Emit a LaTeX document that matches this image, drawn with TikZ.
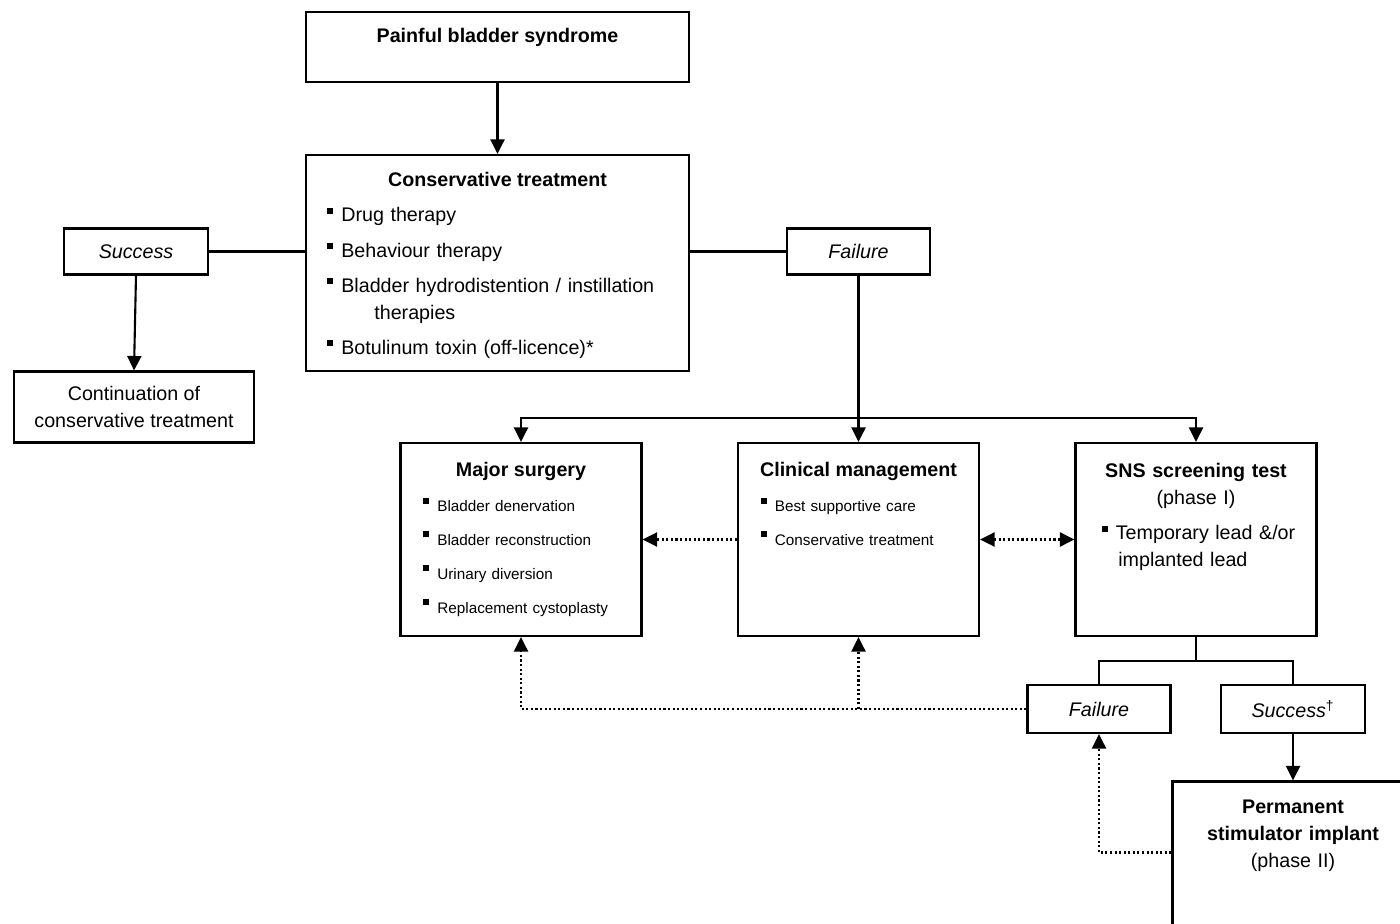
\documentclass[tikz,border=0pt]{standalone}
\usepackage{fontspec}
\setmainfont{Liberation Sans}
\usetikzlibrary{arrows.meta,positioning}
\newcommand{\blt}{\raisebox{0.16cm}{\rule{0.12cm}{0.12cm}}\hspace{0.16cm}}

\begin{document}
\begin{tikzpicture}[
  font=\fontsize{11.2}{15.4}\selectfont,
  box/.style={draw, line width=1.2pt, inner sep=0pt},
  big/.style={box, minimum width=4.82cm, minimum height=3.86cm},
  opt/.style={box, minimum width=2.88cm, minimum height=0.92cm,
              font=\fontsize{11.2}{15.4}\selectfont\itshape},
  ttl/.style={inner sep=0pt, anchor=base, font=\fontsize{11.2}{15.4}\selectfont\bfseries},
  lst/.style={inner sep=0pt, anchor=base west, align=left, text width=#1},
  lst/.default=4.4cm,
  sml/.style={font=\fontsize{8.7}{19.3}\selectfont},
  e/.style={line width=1.2pt},
  arr/.style={e, -{Triangle[length=0.29cm, width=0.28cm]}},
  arr2/.style={e, {Triangle[length=0.29cm, width=0.28cm]}-{Triangle[length=0.29cm, width=0.28cm]}},
  dotl/.style={dash pattern=on 1.2pt off 1.4pt}
]
\clip (0,0) rectangle (28,-18.48);

% top of the pathway
\node[box, minimum width=7.66cm, minimum height=1.40cm] (pbs) at (9.95,-0.94) {};
\node[ttl] (pbs-t) at (9.95,-0.86) {Painful bladder syndrome};

\node[box, minimum width=7.66cm, minimum height=4.32cm] (ct) at (9.95,-5.26) {};
\node[ttl] (ct-t) at (9.95,-3.74) {Conservative treatment};
\node[lst=7.2cm] (ct-l) at (6.54,-4.44) {\blt Drug therapy\\[0.16cm]
  \blt Behaviour therapy\\[0.16cm]
  \blt Bladder hydrodistention / instillation\\
  \hspace*{0.94cm}therapies\\[0.16cm]
  \blt Botulinum toxin (off-licence)*};

\node[opt] (ok1) at (2.72,-5.03) {Success};
\node[opt, minimum width=2.86cm] (fail1) at (17.17,-5.03) {Failure};
\node[box, minimum width=4.80cm, minimum height=1.42cm, align=center] (cont) at (2.68,-8.14)
  {Continuation of\\conservative treatment};

% second line options
\node[big] (ms) at (10.42,-10.79) {};
\node[ttl] (ms-t) at (10.42,-9.53) {Major surgery};
\node[lst, sml] (ms-l) at (8.46,-10.23) {\blt Bladder denervation\\
  \blt Bladder reconstruction\\
  \blt Urinary diversion\\
  \blt Replacement cystoplasty};

\node[big] (cm) at (17.17,-10.79) {};
\node[ttl] (cm-t) at (17.17,-9.53) {Clinical management};
\node[lst, sml] (cm-l) at (15.21,-10.23) {\blt Best supportive care\\
  \blt Conservative treatment};

\node[big] (sns) at (23.92,-10.79) {};
\node[ttl, text width=4.6cm, align=center] (sns-t) at (23.92,-9.55)
  {SNS screening test\\\mdseries (phase I)};
\node[lst] (sns-l) at (22.03,-10.79) {\blt Temporary lead \&/or\\
  \hspace*{0.33cm}implanted lead};

% SNS outcome
\node[opt, minimum width=2.86cm, minimum height=0.96cm] (fail2) at (21.98,-14.18) {Failure};
\node[opt, minimum height=0.96cm] (ok2) at (25.86,-14.18) {Success\textsuperscript{\upshape\textdagger}};
\node[big] (psi) at (25.86,-17.56) {};
\node[ttl, text width=4.6cm, align=center] (psi-t) at (25.86,-16.27)
  {Permanent\\stimulator implant\\\mdseries (phase II)};

\coordinate (bus) at (17.17,-8.36);
\coordinate (split) at (23.92,-13.22);

% connectors
\draw[arr] (pbs.south) -- (ct.north);
\draw[e] (ok1.east) -- (ok1.east -| ct.west);
\draw[e] (fail1.west -| ct.east) -- (fail1.west);
\draw[arr] (ok1.south) -- (cont.north);
\draw[arr] (fail1.south) -- (cm.north);
\draw[arr] (bus) -| (ms.north);
\draw[arr] (bus) -| (sns.north);
\draw[e] (sns.south) -- (split);
\draw[e] (fail2.north) |- (split) -| (ok2.north);
\draw[arr] (ok2.south) -- (psi.north);

% dotted returns
\draw[arr, dotl] (cm.west) -- (ms.east);
\draw[arr2, dotl] (cm.east) -- (sns.west);
\draw[arr, dotl] (fail2.west) -| (ms.south);
\draw[arr, dotl] (cm.south |- fail2.west) -- (cm.south);
\draw[arr, dotl] ([yshift=-1.44cm]psi.north west) -| (fail2.south);

\end{tikzpicture}
\end{document}
